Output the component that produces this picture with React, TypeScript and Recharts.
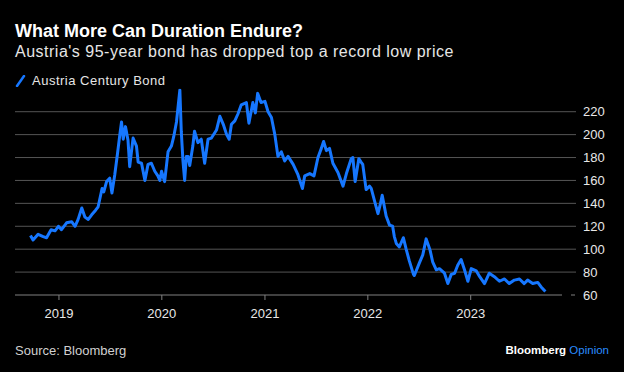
import { LineChart, Line, XAxis, YAxis, CartesianGrid } from 'recharts'

const dates = [
  '2018-09-22', '2018-10-01', '2018-10-19', '2018-11-06', '2018-11-18', '2018-12-04', '2018-12-18', '2018-12-30',
  '2019-01-10', '2019-01-28', '2019-02-15', '2019-02-27', '2019-03-10', '2019-03-23', '2019-04-03', '2019-04-15',
  '2019-04-27', '2019-05-11', '2019-05-20', '2019-06-03', '2019-06-09', '2019-06-19', '2019-06-30', '2019-07-08',
  '2019-07-18', '2019-07-28', '2019-08-05', '2019-08-11', '2019-08-17', '2019-08-25', '2019-09-03', '2019-09-09',
  '2019-09-21', '2019-10-03', '2019-10-09', '2019-10-21', '2019-11-02', '2019-11-13', '2019-11-25', '2019-12-07',
  '2019-12-18', '2019-12-25', '2019-12-31', '2020-01-11', '2020-01-23', '2020-02-04', '2020-02-12', '2020-02-22',
  '2020-02-28', '2020-03-05', '2020-03-10', '2020-03-16', '2020-03-22', '2020-03-28', '2020-04-03', '2020-04-09',
  '2020-04-20', '2020-04-26', '2020-05-08', '2020-05-20', '2020-06-01', '2020-06-13', '2020-06-25', '2020-07-13',
  '2020-07-18', '2020-07-25', '2020-08-06', '2020-08-18', '2020-08-27', '2020-09-04', '2020-09-16', '2020-09-27',
  '2020-10-09', '2020-10-27', '2020-11-05', '2020-11-19', '2020-11-28', '2020-12-06', '2020-12-18', '2021-01-01',
  '2021-01-12', '2021-01-24', '2021-02-05', '2021-02-16', '2021-02-28', '2021-03-12', '2021-03-24', '2021-04-11',
  '2021-04-28', '2021-05-14', '2021-05-22', '2021-06-09', '2021-06-24', '2021-07-08', '2021-07-20', '2021-07-28',
  '2021-08-07', '2021-08-18', '2021-08-30', '2021-09-17', '2021-10-05', '2021-10-17', '2021-11-03', '2021-11-09',
  '2021-11-17', '2021-11-30', '2021-12-08', '2021-12-14', '2021-12-26', '2022-01-07', '2022-01-13', '2022-01-25',
  '2022-02-06', '2022-02-15', '2022-02-21', '2022-03-07', '2022-03-19', '2022-03-30', '2022-04-05', '2022-04-12',
  '2022-04-23', '2022-05-07', '2022-05-17', '2022-05-28', '2022-06-12', '2022-06-15', '2022-07-03', '2022-07-15',
  '2022-07-27', '2022-08-10', '2022-08-19', '2022-09-01', '2022-09-12', '2022-09-30', '2022-10-12', '2022-10-24',
  '2022-11-05', '2022-11-16', '2022-11-28', '2022-12-10', '2022-12-22', '2023-01-03', '2023-01-21', '2023-02-02',
  '2023-02-19', '2023-03-08', '2023-03-26', '2023-04-13', '2023-05-01', '2023-05-18', '2023-06-05', '2023-06-23',
  '2023-07-10', '2023-07-22', '2023-08-09', '2023-08-27', '2023-09-08', '2023-09-23'
]

const prices = [
  112, 108, 113, 111, 110, 117, 116, 120,
  117, 123, 124, 120, 126, 136, 128, 126,
  130, 134, 137, 153, 150, 159, 162, 149,
  165, 184, 200, 211, 196, 207, 195, 172,
  197, 190, 176, 175, 160, 174, 175, 168,
  164, 160, 168, 159, 185, 190, 198, 211,
  225, 239, 203, 177, 160, 181, 181, 173,
  190, 203, 193, 196, 175, 196, 197, 204,
  209, 216, 209, 200, 196, 209, 212, 218,
  226, 228, 210, 228, 219, 236, 228, 229,
  220, 215, 200, 181, 185, 177, 181, 174,
  165, 153, 164, 166, 164, 180, 188, 194,
  186, 188, 175, 167, 155, 166, 179, 180,
  159, 179, 176, 174, 152, 155, 153, 142,
  131, 140, 147, 129, 121, 120, 111, 105,
  102, 110, 100, 90, 78, 77, 88, 95,
  109, 99, 89, 82, 83, 79, 70, 78,
  79, 86, 91, 82, 72, 83, 81, 76,
  70, 79, 76, 72, 74, 70, 73, 74,
  70, 73, 70, 71, 67, 63
]

const yearTicks = ['2019-01-01', '2020-01-01', '2021-01-01', '2022-01-01', '2023-01-01']
const priceTicks = [60, 80, 100, 120, 140, 160, 180, 200, 220]
const xDomain = ['2018-07-29', '2023-11-21']
const yDomain = [60, 240]

const toTime = (d: string) => Date.parse(d + 'T00:00:00Z')

const data = dates.map((d, i) => ({ t: toTime(d), price: prices[i] }))

const BLUE = '#1677ff'
const GRID = '#555555'
const AXIS = '#808080'
const FONT = '"Liberation Sans", Arial, Helvetica, sans-serif'

function PriceTick({ x, y, payload }: any) {
  const isBase = payload.value === 60
  return (
    <g>
      {isBase
        ? <line x1={x + 9} x2={x + 13} y1={y} y2={y} stroke={AXIS} strokeWidth={1} />
        : <line x1={x} x2={x + 14} y1={y} y2={y} stroke={GRID} strokeWidth={1} />}
      <text x={x + 21} y={y} dy="0.35em" textAnchor="start" fill="#e8e8e8" fontSize={13} fontFamily={FONT}>
        {payload.value}
      </text>
    </g>
  )
}

export default function App() {
  return (
    <div style={{
      position: 'absolute', left: 0, top: 0, width: 624, height: 372,
      background: '#000', fontFamily: FONT, overflow: 'hidden'
    }}>
      <div style={{ position: 'absolute', left: 15, top: 21.8, fontSize: 18, lineHeight: '18px', fontWeight: 700, color: '#fff', whiteSpace: 'nowrap' }}>
        What More Can Duration Endure?
      </div>
      <div style={{ position: 'absolute', left: 15, top: 43.8, fontSize: 16, lineHeight: '16px', letterSpacing: 0.5, color: '#e6e6e6', whiteSpace: 'nowrap' }}>
        Austria's 95-year bond has dropped top a record low price
      </div>
      <div style={{ position: 'absolute', left: 15, top: 74, height: 13, display: 'flex', alignItems: 'center', whiteSpace: 'nowrap' }}>
        <svg width={12} height={12} style={{ marginRight: 5 }}>
          <line x1={2} y1={11} x2={9} y2={1} stroke={BLUE} strokeWidth={2.5} strokeLinecap="round" />
        </svg>
        <span style={{ fontSize: 13, lineHeight: '13px', letterSpacing: 0.5, color: '#e6e6e6' }}>Austria Century Bond</span>
      </div>

      <LineChart
        width={624} height={372} data={data}
        margin={{ top: 88.8, right: 12, bottom: 47, left: 15 }}
        style={{ position: 'absolute', left: 0, top: 0 }}
      >
        <CartesianGrid vertical={false} horizontalValues={priceTicks.slice(1)} stroke={GRID} strokeWidth={1} />
        <XAxis
          dataKey="t" type="number" scale="linear"
          domain={xDomain.map(toTime)} allowDataOverflow
          ticks={yearTicks.map(toTime)} interval={0}
          tickFormatter={(v: number) => String(new Date(v).getUTCFullYear())}
          tick={{ fill: '#e8e8e8', fontSize: 13, fontFamily: FONT }}
          tickSize={5} tickMargin={9}
          stroke={AXIS} height={30}
        />
        <YAxis
          orientation="right" type="number" domain={yDomain} ticks={priceTicks}
          allowDataOverflow width={50} interval={0}
          axisLine={false} tickLine={false} tickSize={0} tickMargin={0}
          tick={<PriceTick />}
        />
        <Line
          type="linear" dataKey="price" stroke={BLUE} strokeWidth={3}
          dot={false} strokeLinejoin="round" isAnimationActive={false}
        />
      </LineChart>

      <div style={{ position: 'absolute', left: 15, top: 343.5, fontSize: 13, lineHeight: '13px', color: '#d0d0d0', whiteSpace: 'nowrap' }}>
        Source: Bloomberg
      </div>
      <div style={{ position: 'absolute', right: 15, top: 345.3, fontSize: 11.5, lineHeight: '11.5px', whiteSpace: 'nowrap' }}>
        <span style={{ fontWeight: 700, color: '#fff' }}>Bloomberg</span>
        <span style={{ color: '#2a8cff' }}> Opinion</span>
      </div>
    </div>
  )
}
